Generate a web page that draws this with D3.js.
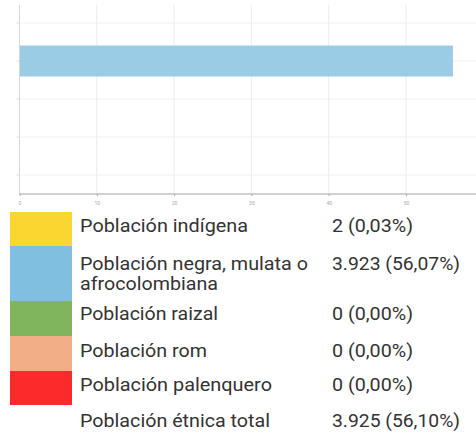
<!DOCTYPE html>
<html>
<head>
<meta charset="utf-8">
<script src="https://cdn.jsdelivr.net/npm/d3@7"></script>
<style>
  html, body { margin: 0; padding: 0; background: #fff; }
  svg { display: block; }
</style>
</head>
<body>
<svg id="chart" width="476" height="433"></svg>
<script>
const categories = ["Población indígena", "Población negra, mulata o afrocolombiana", "Población raizal", "Población rom", "Población palenquero"];
const percentValues = [0.03, 56.07, 0, 0, 0];
const xTicks = [0, 10, 20, 30, 40, 50];
const tableLabels = [["Población indígena"], ["Población negra, mulata o", "afrocolombiana"], ["Población raizal"], ["Población rom"], ["Población palenquero"], ["Población étnica total"]];
const tableValues = ["2 (0,03%)", "3.923 (56,07%)", "0 (0,00%)", "0 (0,00%)", "0 (0,00%)", "3.925 (56,10%)"];
const swatchColors = ["#fad631", "#80bfe0", "#80b55e", "#f2ae86", "#fc2a2a", null];

// layout (widths of the text runs as seen in the reference)
const labelWidths = [[168], [228, 138], [138], [127], [192], [190]];
const valueWidths = [81, 128, 81, 81, 81, 128];

const svg = d3.select("#chart");

// ---- Bar chart ----
const x = d3.scaleLinear().domain([0, 60]).range([19.5, 483.3]);
const y = d3.scaleBand().domain(categories).range([4, 194]).paddingInner(0.2).paddingOuter(0.1);

const g = svg.append("g");

g.selectAll(".vgrid").data(xTicks).enter().append("line")
  .attr("x1", d => x(d)).attr("x2", d => x(d))
  .attr("y1", 5).attr("y2", 194)
  .attr("stroke", "#ececec").attr("stroke-width", 1);

g.selectAll(".hgrid").data(categories).enter().append("line")
  .attr("x1", 19.5).attr("x2", 476)
  .attr("y1", d => y(d) + y.bandwidth() / 2).attr("y2", d => y(d) + y.bandwidth() / 2)
  .attr("stroke", "#f0f0f0").attr("stroke-width", 1);

g.selectAll(".bar").data(categories).enter().append("rect")
  .attr("x", x(0))
  .attr("y", (d) => y(d) + y.bandwidth() / 2 - 15.5)
  .attr("width", (d, i) => x(percentValues[i]) - x(0))
  .attr("height", 31)
  .attr("fill", "#8fc6e3")
  .attr("fill-opacity", 0.9);

const yAxis = d3.axisLeft(y).tickSize(3).tickFormat("");
const ya = g.append("g").attr("transform", "translate(19.5,0)").call(yAxis);
ya.select(".domain").attr("stroke", "#d6d6d6").attr("d", "M0,5V194");
ya.selectAll(".tick line").attr("stroke", "#dcdcdc");

const xAxis = d3.axisBottom(x).tickValues(xTicks).tickSize(2).tickPadding(5);
const xa = g.append("g").attr("transform", "translate(0,194)").call(xAxis);
xa.select(".domain").attr("stroke", "#c2c2c2").attr("stroke-width", 1.5).attr("d", "M19.5,0H476");
xa.selectAll(".tick line").attr("stroke", "#aaa");
xa.selectAll(".tick text").attr("fill", "#aaa").attr("font-size", 5).attr("font-family", "Roboto, sans-serif");

// ---- Table ----
const rowTops = [212, 246, 301, 336, 371, 405];
const rowBottoms = [246, 301, 336, 371, 405, 433];
const baselines = [[232], [270, 290], [320], [357], [391], [427]];

const t = svg.append("g");
tableLabels.forEach((lines, i) => {
  if (swatchColors[i]) {
    t.append("rect").attr("x", 10).attr("y", rowTops[i])
      .attr("width", 62).attr("height", rowBottoms[i] - rowTops[i])
      .attr("fill", swatchColors[i]);
  }
  lines.forEach((ln, j) => {
    t.append("text").attr("x", 80).attr("y", baselines[i][j])
      .attr("font-family", "Roboto, sans-serif").attr("font-size", 17.5)
      .attr("textLength", labelWidths[i][j]).attr("lengthAdjust", "spacingAndGlyphs")
      .attr("fill", "#333").text(ln);
  });
  t.append("text").attr("x", 332).attr("y", baselines[i][0])
    .attr("font-family", "Roboto, sans-serif").attr("font-size", 17.5)
    .attr("textLength", valueWidths[i]).attr("lengthAdjust", "spacingAndGlyphs")
    .attr("fill", "#333").text(tableValues[i]);
});
</script>
</body>
</html>
